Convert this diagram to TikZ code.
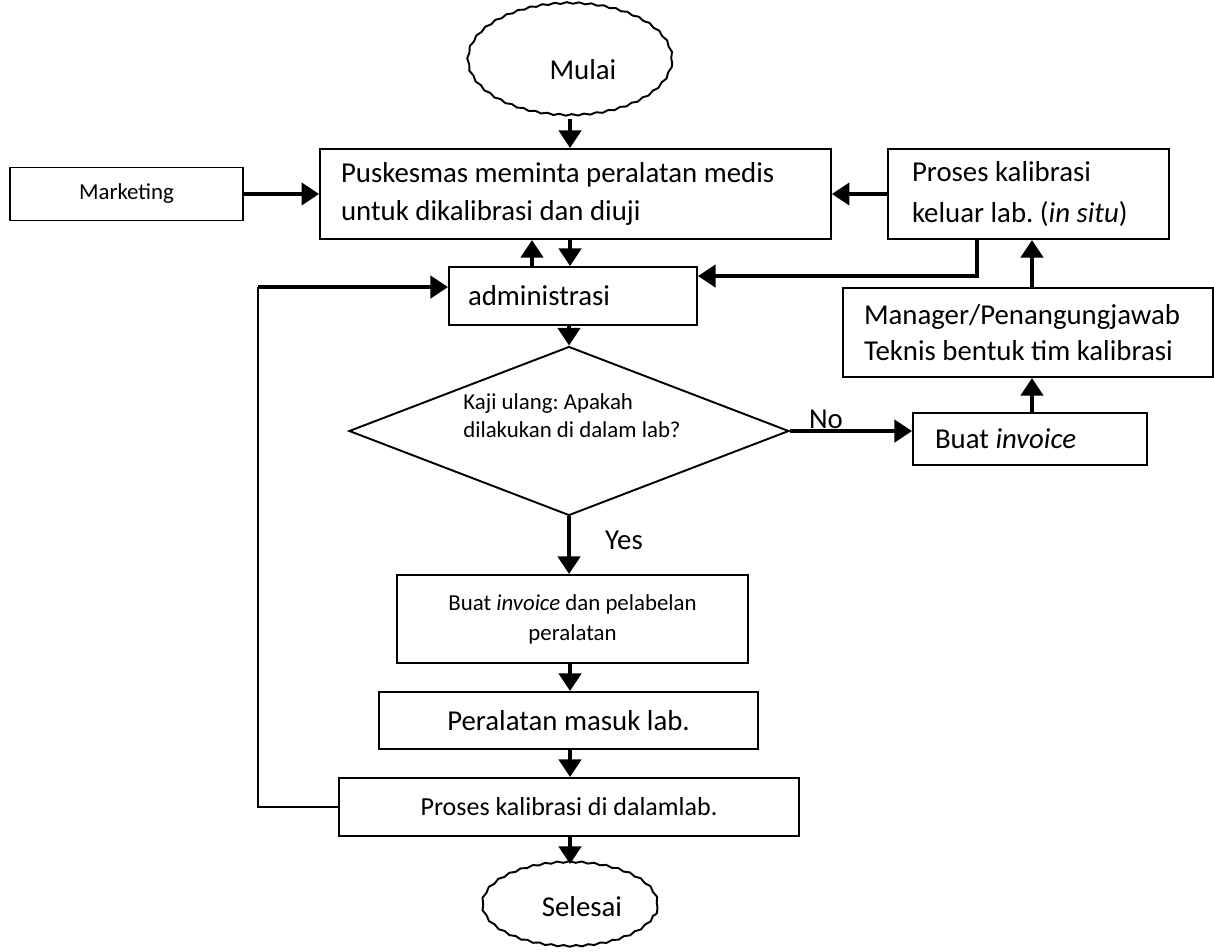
\documentclass[tikz,border=0pt]{standalone}
\usepackage{fontspec}
\setmainfont{Carlito}
\usetikzlibrary{arrows.meta,shapes.geometric,decorations.pathmorphing}
\frenchspacing
\begin{document}
\begin{tikzpicture}[x=0.02cm,y=-0.02cm,
  box/.style={draw, line width=1.1pt, rectangle, inner ysep=0pt},
  big/.style={font=\fontsize{16.4pt}{21.5pt}\selectfont},
  small/.style={font=\fontsize{13pt}{16pt}\selectfont},
  mid/.style={font=\fontsize{14.8pt}{18pt}\selectfont},
  arr/.style={line width=2.4pt, -{Triangle[width=12.5pt,length=10pt]}},
  thinline/.style={line width=1.1pt},
  term/.style={draw, ellipse, line width=1.1pt, inner sep=0pt, decorate,
    decoration={snake, segment length=7pt, amplitude=0.45pt}}
]
\useasboundingbox (0,0) rectangle (1214,951);

% nodes
\node[term, big, minimum width=4.08cm, minimum height=2.24cm, text height=19.5pt, text depth=0pt] (mulai) at (570,62) {\hspace*{14.7pt}Mulai};

\node[box, big, text width=9.38cm, inner xsep=0.42cm, minimum height=1.8cm, align=flush left] (pusk) at (575.5,194) {Puskesmas meminta peralatan medis\\untuk dikalibrasi dan diuji};

\node[box, small, minimum width=4.66cm, minimum height=1.06cm] (mkt) at (126.5,194) {Marketing};

\node[box, font=\fontsize{16.4pt}{23.8pt}\selectfont, text width=4.66cm, inner xsep=0.48cm, minimum height=1.8cm, align=flush left] (insitu) at (1028.5,194) {Proses kalibrasi\\keluar lab. (\textit{in situ})};

\node[box, big, text width=4.2cm, inner xsep=0.38cm, minimum height=1.16cm, align=flush left] (admin) at (573,296) {administrasi};

\node[box, font=\fontsize{16.4pt}{20.4pt}\selectfont, text width=6.56cm, inner xsep=0.42cm, minimum height=1.78cm, align=flush left] (mgr) at (1028,332.5) {Manager/Penangungjawab\\Teknis bentuk tim kalibrasi};

\node[box, big, text width=3.8cm, inner xsep=0.44cm, minimum height=1.04cm, align=flush left] (inv) at (1030,439) {Buat \textit{invoice}};

\node[draw, diamond, line width=1.1pt, inner sep=0pt, minimum width=8.8cm, minimum height=3.38cm] (dec) at (569,431) {};
\node[font=\fontsize{13pt}{15.9pt}\selectfont, anchor=west, align=flush left, inner sep=0pt] (dectext) at (463,416) {Kaji ulang: Apakah\\dilakukan di dalam lab?};

\node[box, font=\fontsize{13pt}{17pt}\selectfont, minimum width=7.02cm, minimum height=1.76cm, align=center] (buat) at (572.5,619) {Buat \textit{invoice} dan pelabelan\\peralatan};

\node[box, big, minimum width=7.58cm, minimum height=1.14cm] (peral) at (568.5,720.5) {Peralatan masuk lab.};

\node[box, mid, minimum width=9.2cm, minimum height=1.16cm] (proses) at (569,807) {Proses kalibrasi di dalamlab.};

\node[term, big, minimum width=3.5cm, minimum height=1.68cm] (selesai) at (570,907) {\hspace*{13.6pt}Selesai};

\node[big, inner sep=0pt] (nolab) at (826,419) {No};
\node[big, inner sep=0pt] (yeslab) at (624,540) {Yes};

% helper coordinates
\coordinate (cx) at (570,0);
\coordinate (upx) at (532,0);
\coordinate (rx) at (1032,0);
\coordinate (kink) at (977,276);
\coordinate (lt) at (258,287);
\coordinate (lb) at (258,807);

% connectors
\draw[arr] (mulai.south) -- (mulai.south |- pusk.north);
\draw[arr] (mkt.east) -- (pusk.west);
\draw[arr] (insitu.west) -- (pusk.east);
\draw[arr] (pusk.south -| cx) -- (admin.north -| cx);
\draw[arr] (admin.north -| upx) -- (pusk.south -| upx);
\draw[arr] (admin.south -| dec.north) -- (dec.north);
\draw[arr] (dec.east) -- (dec.east -| inv.west);
\draw[arr] (inv.north -| rx) -- (mgr.south -| rx);
\draw[arr] (mgr.north -| rx) -- (insitu.south -| rx);
\draw[arr] (insitu.south -| kink) -- (kink) -- (kink -| admin.east);
\draw[arr] (dec.south) -- (dec.south |- buat.north);
\draw[arr] (buat.south -| cx) -- (peral.north -| cx);
\draw[arr] (peral.south -| cx) -- (proses.north -| cx);
\draw[arr] (proses.south -| cx) -- (selesai.north);
\draw[thinline] (proses.west) -- (lb) -- (lt);
\draw[arr] (lt) -- (lt -| admin.west);
\end{tikzpicture}
\end{document}
